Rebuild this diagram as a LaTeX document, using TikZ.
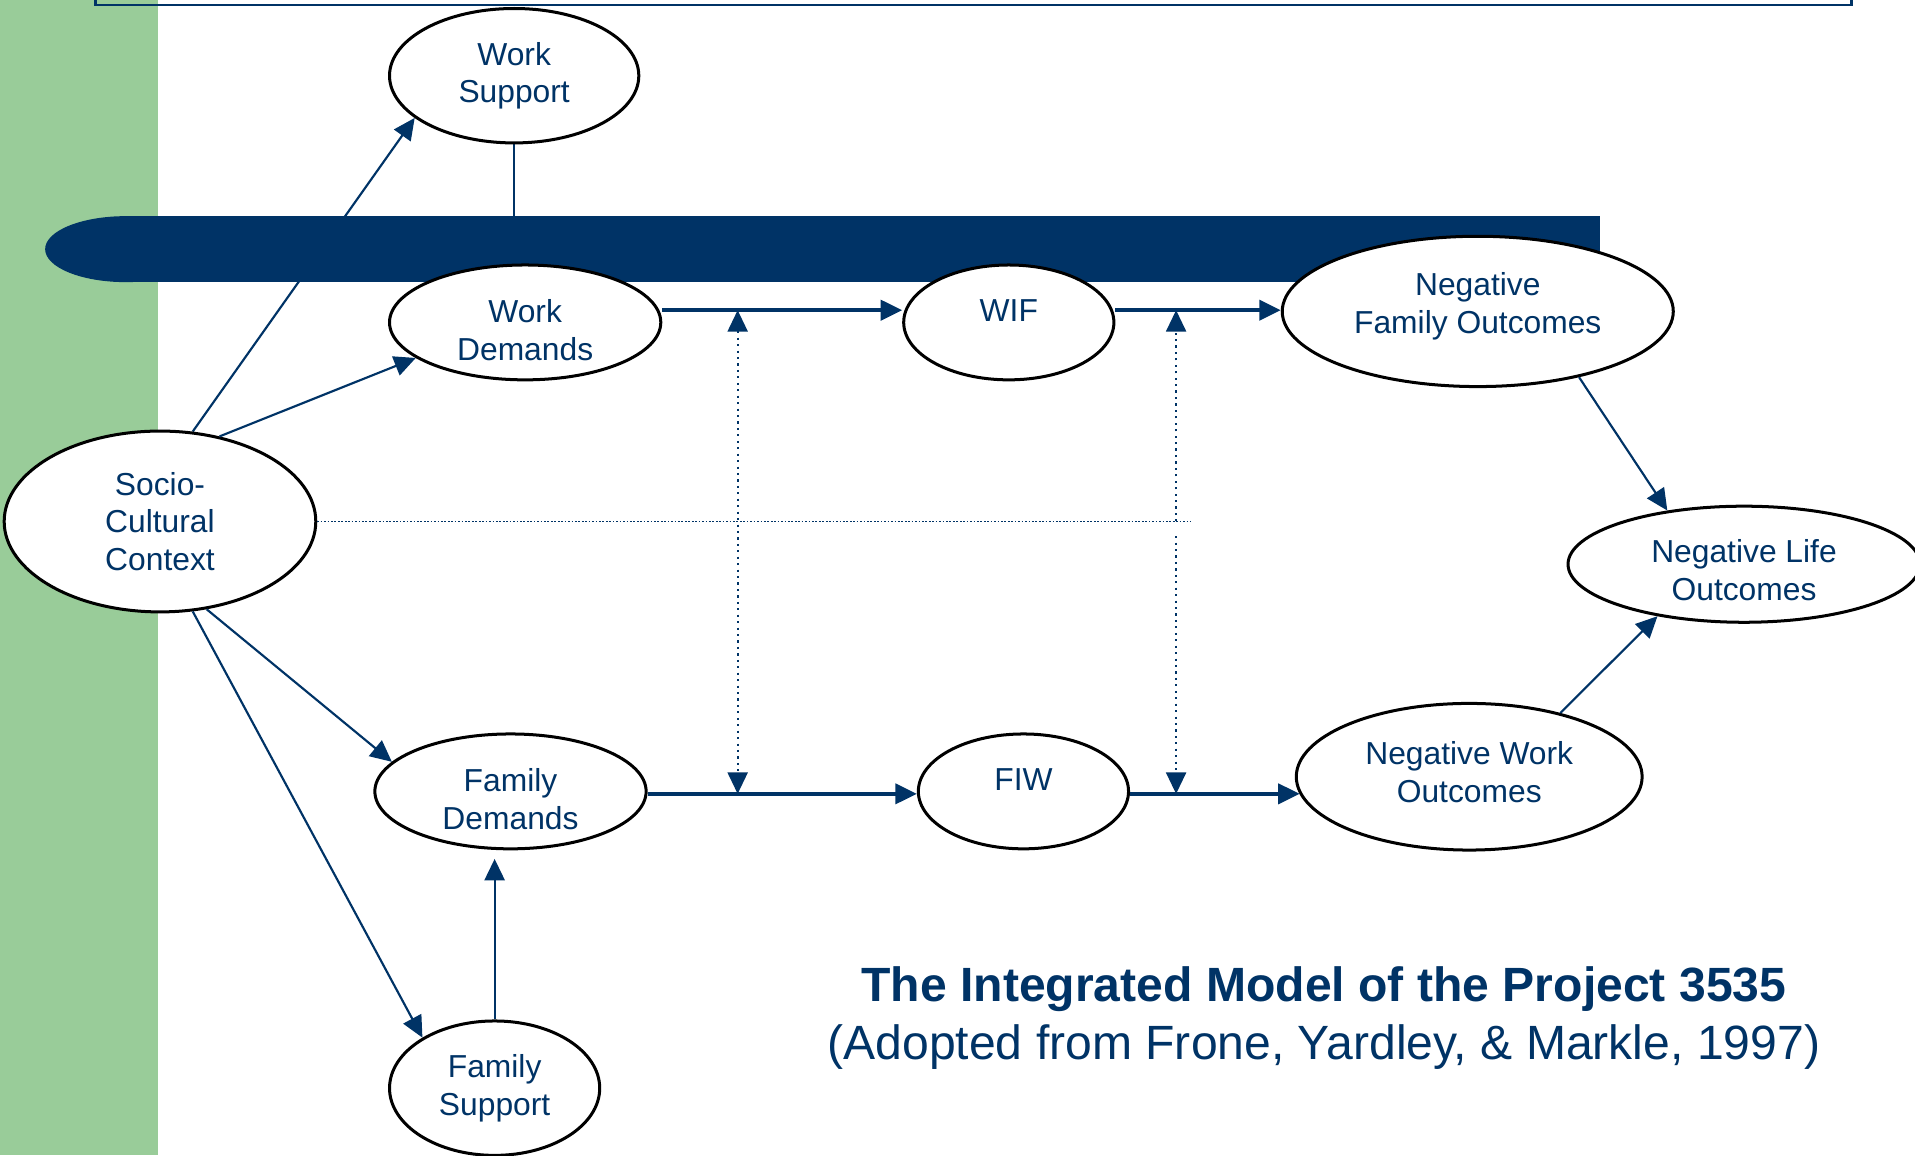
\documentclass[tikz,border=0pt]{standalone}
\usepackage{fontspec}
\setmainfont{Liberation Sans}
\usetikzlibrary{shapes,arrows.meta,backgrounds}
\definecolor{navy}{RGB}{0,51,102}
\definecolor{leafgreen}{RGB}{153,204,153}
\tikzstyle{factor} = [ellipse, draw=black, line width=0.7pt, fill=white,
    text=navy, align=center, inner sep=0pt, font=\fontsize{7.4}{8.8}\selectfont]
\tikzstyle{link} = [draw, navy, line width=0.5pt, ->]
\tikzstyle{flow} = [link, line width=0.8pt]
\tikzstyle{moderate} = [draw, navy, line width=0.4pt, dash pattern=on 0.5pt off 1pt]
\tikzstyle{context} = [draw, navy, line width=0.4pt, dash pattern=on 0.4pt off 0.4pt]
\tikzstyle{caption} = [text=navy, font=\fontsize{11.2}{13.4}\selectfont]

\begin{document}
\begin{tikzpicture}[x=0.01cm, y=-0.01cm, >={Triangle[length=5pt,width=4.7pt]}]
    \useasboundingbox (0,0) rectangle (1568,946);
    % Place nodes
    \node [factor, minimum width=2.04cm, minimum height=1.10cm] (ws) at (421,62) {Work\\Support};
    \node [factor, minimum width=2.22cm, minimum height=0.94cm, text height=17.6pt] (wd) at (430,264) {Work\\Demands};
    \node [factor, minimum width=1.72cm, minimum height=0.94cm, text depth=5.7pt] (wif) at (826,264) {WIF};
    \node [factor, minimum width=3.20cm, minimum height=1.23cm, text depth=3.8pt] (nfo) at (1210,255) {Negative\\Family Outcomes};
    \node [factor, minimum width=2.55cm, minimum height=1.48cm] (scc) at (131,427) {Socio-\\Cultural\\Context};
    \node [factor, minimum width=2.88cm, minimum height=0.95cm, text height=17pt] (nlo) at (1428,462) {Negative Life\\Outcomes};
    \node [factor, minimum width=2.83cm, minimum height=1.20cm, text depth=2.2pt] (nwo) at (1203,636) {Negative Work\\Outcomes};
    \node [factor, minimum width=2.22cm, minimum height=0.94cm, text height=17.6pt] (fd) at (418,648) {Family\\Demands};
    \node [factor, minimum width=1.72cm, minimum height=0.94cm, text depth=5.7pt] (fiw) at (838,648) {FIW};
    \node [factor, minimum width=1.72cm, minimum height=1.10cm] (fs) at (405,891) {Family\\Support};
    \node [caption, font=\bfseries\fontsize{11.2}{13.4}\selectfont] (title) at (1084,810) {The Integrated Model of the Project 3535};
    \node [caption] (source) at (1084,857) {(Adopted from Frone, Yardley, \& Markle, 1997)};

    % Points on the paths
    \coordinate (wtop) at (604,254);
    \coordinate (wbot) at (604,650);
    \coordinate (cross) at (963,427);
    \coordinate (gap) at (963,439);
    \coordinate (ftop) at (963,254);
    \coordinate (fbot) at (963,650);
    \coordinate (ctxend) at (975,427);

    % Draw edges
    \path [link] (scc.55) -- (wd.198);
    \path [link] (scc.-62) -- (fd.166);
    \path [link] (scc.-70) -- (fs.145);
    \path [link, shorten >=2pt] (fs.north) -- (fs.north |- fd.south);
    \path [flow] ([shift={(0,-10)}]wd.east) -- ([shift={(0,-10)}]wif.west);
    \path [flow] ([shift={(0,-10)}]wif.east) -- ([shift={(0,-1)}]nfo.west);
    \path [flow] ([shift={(0,2)}]fd.east) -- ([shift={(0,2)}]fiw.west);
    \path [flow] ([shift={(0,2)}]fiw.east) -- ([shift={(4,14)}]nwo.west);
    \path [link] (nfo.-33) -- (nlo.145);
    \path [link] (nwo.35) -- (nlo.211);
    \path [moderate, <->] (wtop) -- (wbot);
    \path [moderate, ->] (cross) -- (ftop);
    \path [moderate, ->] (gap) -- (fbot);
    \path [context] (scc.east) -- (ctxend);

    % Band and frame behind
    \begin{pgfonlayer}{background}
        \fill [leafgreen] (0,0) rectangle (129,946);
        \draw [navy, line width=0.6pt] (78,-30) rectangle (1516,4);
        \path [link] (scc.70) -- (ws.203);
        \draw [navy, line width=0.5pt] (ws.south) -- (ws.south |- wd.north);
        \fill [navy] (103,204) ellipse [x radius=0.66cm, y radius=0.27cm];
        \fill [navy] (103,177) rectangle (1310,231);
    \end{pgfonlayer}
\end{tikzpicture}
\end{document}
